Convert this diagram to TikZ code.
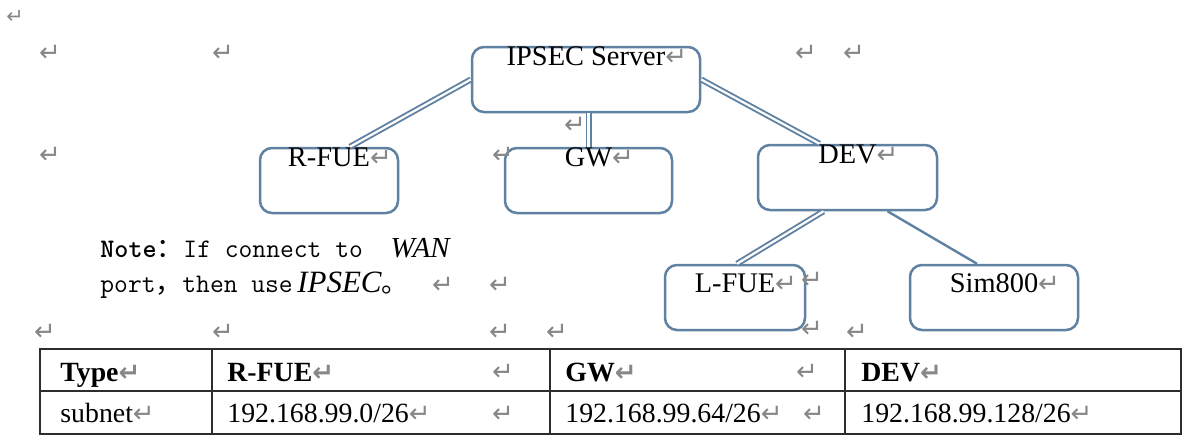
\documentclass[tikz,border=0pt]{standalone}
\usepackage{fontspec}
\setmainfont{Liberation Serif}
\newfontfamily\cjk{Noto Sans CJK SC}
\newfontfamily\markfont{DejaVu Sans}
\usepackage{xcolor}
\usetikzlibrary{calc,positioning}
\definecolor{boxline}{RGB}{96,130,162}
\definecolor{markgray}{RGB}{135,135,135}
\definecolor{gridline}{RGB}{45,45,45}
\newcommand\pmark{{\markfont\fontsize{13}{13}\selectfont\textcolor{markgray}{↵}}}
\newcommand\boxsize{\fontsize{14.2}{16}\selectfont}
\newcommand\cellsize{\fontsize{13.9}{16}\selectfont}
\newcommand\notesize{\fontsize{13.4}{16}\selectfont}

\begin{document}
\begin{tikzpicture}[x=0.5pt,y=-0.5pt,
    unit/.style={draw=boxline, line width=1.25pt, rounded corners=6pt, inner sep=0pt,
        font=\boxsize, text height=9.3pt, text depth=23.2pt},
    lowunit/.style={unit, text height=13.5pt, text depth=19pt},
    link/.style={draw=boxline, line width=0.95pt, double=white, double distance=1.1pt},
    plainlink/.style={draw=boxline, line width=1.2pt},
    pmk/.style={inner sep=0pt},
    cell/.style={anchor=base west, inner sep=0pt, font=\cellsize},
    grid/.style={draw=gridline, line width=0.75pt}]
    % Page
    \fill[white] (0,0) rectangle (1184,439);
    \useasboundingbox (0,0) rectangle (1184,439);

    % Units
    \node[unit, minimum width=114pt] (ipsec) at (586,79.5) {IPSEC Server\rlap{\pmark}};
    \node[unit, minimum width=69pt] (rfue) at (329,180.5) {R-FUE\rlap{\pmark}};
    \node[unit, minimum width=83.5pt] (gw) at (588.5,180.5) {GW\rlap{\pmark}};
    \node[unit, minimum width=89.5pt] (dev) at (847.5,177.5) {DEV\rlap{\pmark}};
    \node[lowunit, minimum width=70pt] (lfue) at (735,297.5) {L-FUE\rlap{\pmark}};
    \node[lowunit, minimum width=84pt] (sim) at (994,297.5) {Sim800\rlap{\pmark}};

    % Links
    \draw[link] (ipsec.west) -- ([xshift=10.5pt]rfue.north);
    \draw[link] (ipsec.south -| gw.north) -- (gw.north);
    \draw[link] (ipsec.east) -- ([xshift=-14pt]dev.north);
    \draw[link] ([xshift=-12pt]dev.south) -- ([xshift=1pt]lfue.north);
    \draw[plainlink] ([xshift=20pt]dev.south) -- ([xshift=-8.5pt]sim.north);

    % Note
    \node[anchor=base west, inner sep=0pt, font=\notesize\ttfamily] (note1) at (100,257)
        {{\bfseries Note}{\cjk ：}If connect to\ \ {\rmfamily\itshape\fontsize{14.5}{16}\selectfont WAN}};
    \node[anchor=base west, inner sep=0pt, font=\notesize\ttfamily] (note2) at (100,292)
        {port{\cjk ，}then use\,{\rmfamily\itshape\fontsize{15.5}{16}\selectfont IPSEC}{\cjk 。}};

    % Table
    \draw[grid] (40,349) rectangle (1181,434);
    \draw[grid] (40,391) -- (1181,391);
    \foreach \cx in {212,550,845} {
        \draw[grid] (\cx,349) -- (\cx,434);
    };
    \node[cell, font=\cellsize\bfseries] (hType) at (60,381) {Type\pmark};
    \node[cell, font=\cellsize\bfseries] (hRfue) at (227,381) {R-FUE\pmark};
    \node[cell, font=\cellsize\bfseries] (hGw) at (565,381) {GW\pmark};
    \node[cell, font=\cellsize\bfseries] (hDev) at (861,381) {DEV\pmark};
    \node[cell] (vType) at (60,422) {subnet\pmark};
    \node[cell] (vRfue) at (227,422) {192.168.99.0/26\pmark};
    \node[cell] (vGw) at (565,422) {192.168.99.64/26\pmark};
    \node[cell] (vDev) at (861,422) {192.168.99.128/26\pmark};

    % Paragraph marks
    \node[pmk, scale=0.8] (pm0) at (15,17) {\pmark};
    \foreach \px/\py [count=\k] in {50/53, 223/53, 806/53, 854/53, 50/155, 575/125,
        503/155, 443/285, 500/285, 812/280, 45/332, 223/332, 500/332, 557/332,
        812/329, 857/332, 503/372, 807/372, 503/414, 814/414} {
        \node[pmk] (pm\k) at (\px,\py) {\pmark};
    };
\end{tikzpicture}
\end{document}
